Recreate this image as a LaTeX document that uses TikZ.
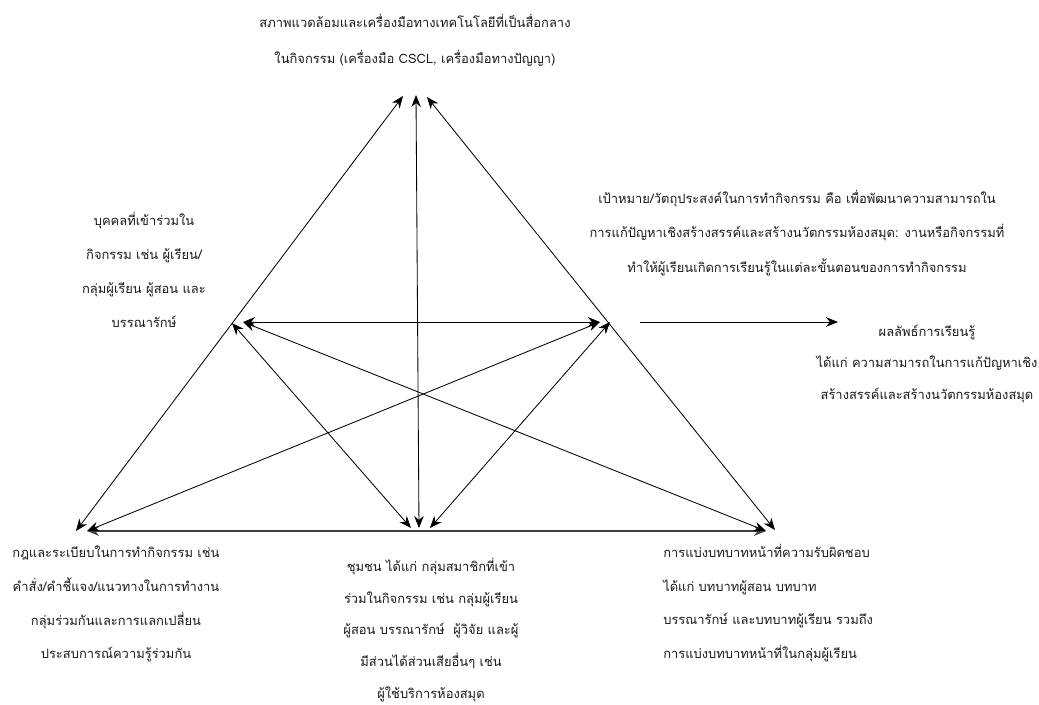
\documentclass[tikz,border=0pt]{standalone}
\usepackage{fontspec}
\newfontfamily\thaifont[Script=Thai]{Loma}
\usetikzlibrary{arrows.meta}
\definecolor{Ink}{HTML}{1A1A1A}
\begin{document}
\begin{tikzpicture}[x=0.025cm,y=-0.025cm,>={Stealth[length=3mm,width=2.4mm]},
  txt/.style={font=\thaifont\fontsize{9.2}{24}\selectfont,align=center,inner sep=0pt,text=Ink},
  link/.style={<->,line width=0.6pt}]
\useasboundingbox (0,0) rectangle (1039,704);
\coordinate (topL) at (403,96);
\coordinate (topC) at (416,95);
\coordinate (topR) at (427,97);
\coordinate (lftA) at (232,323);
\coordinate (lftB) at (243,322);
\coordinate (rgtA) at (600,322);
\coordinate (rgtB) at (610,322);
\coordinate (blA) at (76,531);
\coordinate (blB) at (87,531);
\coordinate (bcL) at (411,528);
\coordinate (bcC) at (419,528);
\coordinate (bcR) at (430,528);
\coordinate (brA) at (766,531);
\coordinate (brB) at (775,530);
\coordinate (outS) at (640,322);
\coordinate (outE) at (838,322);
\node[txt,font=\thaifont\fontsize{9.2}{25.6}\selectfont] (env) at (415,40) {สภาพแวดล้อมและเครื่องมือทางเทคโนโลยีที่เป็นสื่อกลาง\\ในกิจกรรม (เครื่องมือ CSCL, เครื่องมือทางปัญญา)};
\node[txt] (subj) at (144,270) {บุคคลที่เข้าร่วมใน\\กิจกรรม เช่น ผู้เรียน/\\กลุ่มผู้เรียน ผู้สอน และ\\บรรณารักษ์};
\node[txt,font=\thaifont\fontsize{9.2}{24.8}\selectfont] (obj) at (797,233) {เป้าหมาย/วัตถุประสงค์ในการทำกิจกรรม คือ เพื่อพัฒนาความสามารถใน\\การแก้ปัญหาเชิงสร้างสรรค์และสร้างนวัตกรรมห้องสมุด: งานหรือกิจกรรมที่\\ทำให้ผู้เรียนเกิดการเรียนรู้ในแต่ละขั้นตอนของการทำกิจกรรม};
\node[txt,font=\thaifont\fontsize{9.2}{22.4}\selectfont] (outc) at (927,364) {ผลลัพธ์การเรียนรู้\\ได้แก่ ความสามารถในการแก้ปัญหาเชิง\\สร้างสรรค์และสร้างนวัตกรรมห้องสมุด};
\node[txt] (rules) at (116,604) {กฎและระเบียบในการทำกิจกรรม เช่น\\คำสั่ง/คำชี้แจง/แนวทางในการทำงาน\\กลุ่มร่วมกันและการแลกเปลี่ยน\\ประสบการณ์ความรู้ร่วมกัน};
\node[txt,font=\thaifont\fontsize{9.2}{22.7}\selectfont] (comm) at (431,630) {ชุมชน ได้แก่ กลุ่มสมาชิกที่เข้า\\ร่วมในกิจกรรม เช่น กลุ่มผู้เรียน\\ผู้สอน บรรณารักษ์~ ผู้วิจัย และผู้\\มีส่วนได้ส่วนเสียอื่นๆ เช่น\\ผู้ใช้บริการห้องสมุด};
\node[txt,align=left,anchor=west] (div) at (663,603) {การแบ่งบทบาทหน้าที่ความรับผิดชอบ\\ได้แก่ บทบาทผู้สอน บทบาท\\บรรณารักษ์ และบทบาทผู้เรียน รวมถึง\\การแบ่งบทบาทหน้าที่ในกลุ่มผู้เรียน};
\draw[link] (blA) -- (topL);
\draw[link] (topR) -- (brB);
\draw[link] (topC) -- (bcC);
\draw[link,black!75,line width=1.2pt] (blB) -- (brA);
\draw[link] (lftB) -- (rgtA);
\draw[link] (lftA) -- (bcL);
\draw[link] (rgtB) -- (bcR);
\draw[link] (lftB) -- (brA);
\draw[link] (blB) -- (rgtA);
\draw[->,line width=0.6pt] (outS) -- (outE);
\end{tikzpicture}
\end{document}
